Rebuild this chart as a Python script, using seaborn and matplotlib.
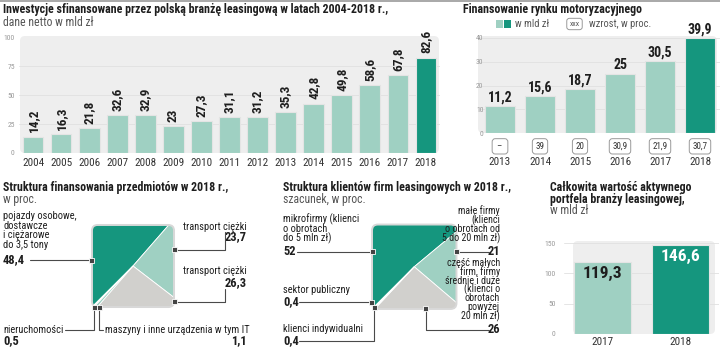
import numpy as np
import pandas as pd
import matplotlib.pyplot as plt
import seaborn as sns
from matplotlib import font_manager
from matplotlib.patches import FancyBboxPatch, Polygon, Rectangle
from matplotlib.lines import Line2D
from matplotlib.transforms import Affine2D

# ---- data ----
inv_years = ['2004', '2005', '2006', '2007', '2008', '2009', '2010', '2011',
             '2012', '2013', '2014', '2015', '2016', '2017', '2018']
inv_values = [14.2, 16.3, 21.8, 32.6, 32.9, 23, 27.3, 31.1, 31.2, 35.3, 42.8, 49.8, 58.6, 67.8, 82.6]

moto_years = ['2013', '2014', '2015', '2016', '2017', '2018']
moto_values = [11.2, 15.6, 18.7, 25, 30.5, 39.9]
moto_growth = ['–', '39', '20', '30,9', '21,9', '30,7']

obj_names = ['pojazdy osobowe, dostawcze i ciężarowe do 3,5 tony', 'transport ciężki',
             'transport ciężki', 'maszyny i inne urządzenia w tym IT', 'nieruchomości']
obj_shares = [48.4, 23.7, 26.3, 1.1, 0.5]

cli_names = ['mikrofirmy', 'małe firmy', 'część małych firm, firmy średnie i duże',
             'klienci indywidualni', 'sektor publiczny']
cli_shares = [52, 21, 26, 0.4, 0.4]

port_years = ['2017', '2018']
port_values = [119.3, 146.6]

# ---- style ----
W, H = 720, 354
LIGHT = '#9fd0c2'
DARK = '#15967e'
GREY = '#d1d0cd'
BG = '#eeeeee'
INK = '#1e1e1e'
SOFT = '#555555'

installed = {f.name for f in font_manager.fontManager.ttflist}
FONT = next((f for f in ['Roboto Condensed', 'Liberation Sans Narrow', 'Roboto']
             if f in installed), 'DejaVu Sans')

sns.set_style('white')
plt.rcParams['font.family'] = [FONT, 'DejaVu Sans']

fig = plt.figure(figsize=(W / 100, H / 100), dpi=100)
PX = Affine2D().scale(1 / W, -1 / H).translate(0, 1) + fig.transFigure


def pl(v):
    return f'{v:g}'.replace('.', ',')


def axes_px(x0, y0, x1, y1):
    return fig.add_axes([x0 / W, 1 - y1 / H, (x1 - x0) / W, (y1 - y0) / H])


def put(x, y, s, size=7.5, weight='normal', color=INK, ha='left', va='center', **kw):
    fig.text(x, y, s, transform=PX, fontsize=size, fontweight=weight, color=color,
             ha=ha, va=va, **kw)


def put_lines(x, y, lines, step, **kw):
    for k, s in enumerate(lines):
        put(x, y + k * step, s, **kw)


def leader(xs, ys):
    fig.add_artist(Line2D(xs, ys, transform=PX, color='#4a4a4a', lw=0.8, zorder=4))


def marker(x, y, s=5):
    fig.add_artist(Rectangle((x - s / 2, y - s / 2), s, s, transform=PX, fc='#444444',
                             ec='white', lw=0.6, zorder=5))


def panel_bg(x0, y0, x1, y1, r=5):
    fig.add_artist(FancyBboxPatch((x0, y0), x1 - x0, y1 - y0, transform=PX,
                                  boxstyle=f'round,pad=0,rounding_size={r}',
                                  fc=BG, ec='none', zorder=-1))


def style_bars(ax, ymax, yticks, ypad):
    ax.set_ylim(0, ymax)
    ax.set_yticks(yticks)
    ax.set_xlabel('')
    ax.set_ylabel('')
    sns.despine(ax=ax, left=True, bottom=True)
    ax.set_facecolor('none')
    ax.grid(axis='y', color='#e0e0e0', lw=0.6)
    ax.set_axisbelow(True)
    ax.tick_params(axis='y', length=0, labelsize=5.5, labelcolor='#9a9a9a', pad=ypad)
    ax.tick_params(axis='x', length=0, labelsize=8, labelcolor='#333333')


def perim_point(t):
    t = t % 4
    if t <= 1:
        return (0, t)
    if t <= 2:
        return (t - 1, 1)
    if t <= 3:
        return (1, 3 - t)
    return (4 - t, 0)


def square_pie(ax, shares, colors):
    total = sum(shares)
    box = FancyBboxPatch((0, 0), 1, 1, boxstyle='round,pad=0,rounding_size=0.07',
                         fc='#f4f4f4', ec='none')
    ax.add_patch(box)
    start = 0
    for s, c in zip(shares, colors):
        end = start + 4 * s / total
        pts = [(0.5, 0.5), perim_point(start)]
        pts += [perim_point(k) for k in [1, 2, 3, 4] if start < k < end]
        pts.append(perim_point(end))
        poly = Polygon(pts, closed=True, fc=c, ec='white', lw=0.6)
        ax.add_patch(poly)
        poly.set_clip_path(box)
        start = end
    ax.add_patch(FancyBboxPatch((0, 0), 1, 1, boxstyle='round,pad=0,rounding_size=0.07',
                                fc='none', ec='#d8d8d8', lw=1.4, zorder=5))
    ax.set_xlim(-0.03, 1.03)
    ax.set_ylim(-0.03, 1.03)
    ax.set_aspect('equal')
    ax.axis('off')


# top border
fig.add_artist(Line2D([0, W], [0.6, 0.6], transform=PX, color='#9a9a9a', lw=1.2))

# ================================
# 1. Investments 2004-2018
# ================================
put(3, 9, 'Inwestycje sfinansowane przez polską branżę leasingową w latach 2004-2018 r.,',
    size=8.6, weight='bold')
put(3, 22, 'dane netto w mld zł', size=8.5, color=SOFT)
panel_bg(20, 36, 439, 153)
ax1 = axes_px(19, 37.5, 440, 153)
sns.barplot(x=inv_years, y=inv_values, hue=inv_years, palette=[LIGHT] * 14 + [DARK],
            legend=False, ax=ax1, width=0.74, saturation=1, edgecolor='#e4e4e4', linewidth=0.8)
style_bars(ax1, 100, [0, 25, 50, 75, 100], 3)
for i, v in enumerate(inv_values):
    ax1.annotate(pl(v), (i, v), xytext=(0, 3), textcoords='offset points', rotation=90,
                 ha='center', va='bottom', fontsize=9.5, fontweight='bold', color=INK)

# ================================
# 2. Motor market
# ================================
put(463, 9, 'Finansowanie rynku motoryzacyjnego', size=8.6, weight='bold')
fig.add_artist(Rectangle((496, 20), 7, 8, transform=PX, fc=LIGHT, ec='none'))
fig.add_artist(Rectangle((504, 20), 7, 8, transform=PX, fc=DARK, ec='none'))
put(515, 24, 'w mld zł', size=7.5, color=SOFT)
put(574.5, 24, 'xxx', size=5.5, color=SOFT, ha='center',
    bbox=dict(boxstyle='round,pad=0.35', fc='white', ec='#9a9a9a', lw=0.7))
put(589, 24, 'wzrost, w proc.', size=7.5, color=SOFT)
panel_bg(478, 36, 717, 133)
ax2 = axes_px(480, 38, 720, 133)
sns.barplot(x=moto_years, y=moto_values, hue=moto_years, palette=[LIGHT] * 5 + [DARK],
            legend=False, ax=ax2, width=0.75, saturation=1, edgecolor='#e4e4e4', linewidth=0.8)
style_bars(ax2, 40, [0, 10, 20, 30, 40], -2.5)
ax2.tick_params(axis='x', pad=17)
for i, v in enumerate(moto_values):
    ax2.annotate(pl(v), (i, v), xytext=(0, 1), textcoords='offset points',
                 ha='center', va='bottom', fontsize=10, fontweight='bold', color=INK)
for i, g in enumerate(moto_growth):
    label = f' {g} ' if len(g) < 2 else g
    ax2.annotate(label, (i, 0), xytext=(0, -9.6), textcoords='offset points',
                 ha='center', va='center', fontsize=6.5, color='#333333', annotation_clip=False,
                 bbox=dict(boxstyle='round,pad=0.35', fc='white', ec='#9a9a9a', lw=0.7))

# ================================
# 3. Structure of financed objects
# ================================
put(3, 187, 'Struktura finansowania przedmiotów w 2018 r.,', size=8.6, weight='bold')
put(3, 199, 'w proc.', size=8.5, color=SOFT)
ax3 = axes_px(89.5, 222.5, 176.5, 309.5)
square_pie(ax3, obj_shares, [DARK, LIGHT, GREY, LIGHT, '#f6f6f6'])

put_lines(3, 216, ['pojazdy osobowe,', 'dostawcze', 'i ciężarowe', 'do 3,5 tony'], 9.7, size=7.5)
put(3, 260, pl(obj_shares[0]), size=9, weight='bold')
leader([30, 91], [260, 260])
marker(91, 260)

put(247, 226.5, obj_names[1], size=7.5, ha='right')
put(247, 237, pl(obj_shares[1]), size=9, weight='bold', ha='right')
leader([174, 225, 225], [249.5, 249.5, 232])
marker(174, 249.5)

put(247, 271.5, obj_names[2], size=7.5, ha='right')
put(247, 282.5, pl(obj_shares[2]), size=9, weight='bold', ha='right')
leader([174, 225, 225], [301.5, 301.5, 289])
marker(174, 301.5)

put(3, 330, obj_names[4], size=7.5)
put(3, 340.5, pl(obj_shares[4]), size=9, weight='bold')
leader([94, 94, 65], [307.5, 330, 330])
put(105, 330, obj_names[3], size=7.5)
put(247, 340.5, pl(obj_shares[3]), size=9, weight='bold', ha='right')
leader([99, 99, 103], [307.5, 330, 330])
marker(94, 307.5)
marker(99, 307.5)

# ================================
# 4. Structure of clients
# ================================
put(283, 187, 'Struktura klientów firm leasingowych w 2018 r.,', size=8.6, weight='bold')
put(283, 199, 'szacunek, w proc.', size=8.5, color=SOFT)
ax4 = axes_px(369.5, 222, 459, 311.5)
square_pie(ax4, cli_shares, [DARK, LIGHT, GREY, LIGHT, '#f6f6f6'])

put_lines(283, 219, ['mikrofirmy (klienci', 'o obrotach', 'do 5 mln zł)'], 9.8, size=7.5)
put(283, 251.5, pl(cli_shares[0]), size=9, weight='bold')
leader([297, 372], [251.5, 251.5])
marker(372, 251.5)

put(283, 290, cli_names[4], size=7.5)
put(283, 301.5, pl(cli_shares[4]), size=9, weight='bold')
leader([299, 371], [302, 302])
put(283, 329, cli_names[3], size=7.5)
put(283, 340.5, pl(cli_shares[3]), size=9, weight='bold')
leader([374, 374, 299], [307.5, 340.5, 340.5])
marker(371, 302.5)
marker(374, 307.5)

put_lines(500, 211, ['małe firmy', '(klienci', 'o obrotach od', '5 do 20 mln zł)'], 9,
          size=7.2, ha='right')
put(500, 251.5, pl(cli_shares[1]), size=9, weight='bold', ha='right')
leader([456, 489], [251.5, 251.5])
marker(456, 251.5)

put_lines(500, 263, ['część małych', 'firm, firmy', 'średnie i duże', '(klienci o',
                     'obrotach', 'powyżej', '20 mln zł)'], 8.8, size=7.2, ha='right')
put(500, 329.5, pl(cli_shares[2]), size=9, weight='bold', ha='right')
leader([425.5, 425.5, 489], [308, 329.5, 329.5])
marker(425.5, 308)

# ================================
# 5. Portfolio value
# ================================
put(550, 187, 'Całkowita wartość aktywnego', size=8.6, weight='bold')
put(550, 199, 'portfela branży leasingowej,', size=8.6, weight='bold')
put(550, 211, 'w mld zł', size=8.5, color=SOFT)
panel_bg(573, 241, 715, 334)
ax5 = axes_px(564, 243, 719, 334)
sns.barplot(x=port_years, y=port_values, hue=port_years, palette=[LIGHT, DARK],
            legend=False, ax=ax5, width=0.73, saturation=1, edgecolor='#e4e4e4', linewidth=0.8)
style_bars(ax5, 150, [0, 50, 100, 150], 6)
ax5.tick_params(axis='x', pad=2.5)
for i, v in enumerate(port_values):
    ax5.annotate(pl(v), (i, v), xytext=(0, -8.5), textcoords='offset points',
                 ha='center', va='center', fontsize=12.5, fontweight='bold',
                 color=INK if i == 0 else 'white')

fig.savefig('out.png', dpi=100)
